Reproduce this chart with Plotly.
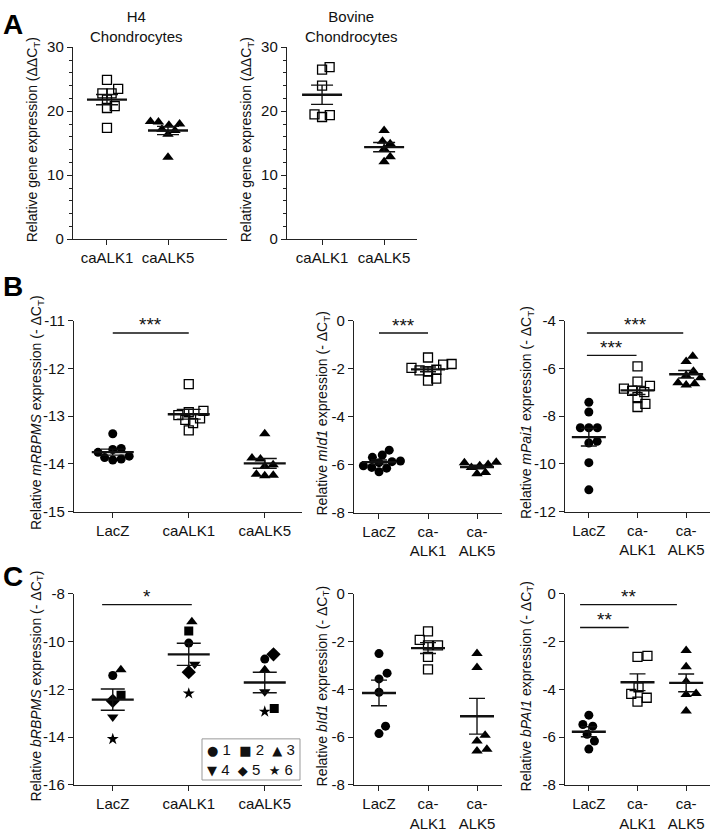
import math
import numpy as np
import plotly.graph_objects as go

W, H = 713, 837
FONT = "Liberation Sans, Arial, sans-serif"

# ---------------- data ----------------
A_cats = ["caALK1", "caALK5"]
B1_cats = ["LacZ", "caALK1", "caALK5"]
B2_cats = ["LacZ", "ca-<br>ALK1", "ca-<br>ALK5"]

# Panel A – H4 chondrocytes (ΔΔCT)
h4_caALK1 = [24.9, 23.5, 22.8, 22.8, 21.8, 20.8, 20.5, 17.4]
h4_caALK5 = [18.4, 18.0, 17.8, 18.3, 17.2, 17.0, 16.4, 12.8]
# Panel A – bovine chondrocytes
bov_caALK1 = [26.5, 26.9, 24.0, 19.5, 19.1, 19.4]
bov_caALK5 = [17.0, 14.9, 15.3, 14.1, 12.9, 12.1]

# Panel B – mouse (-ΔCT)
mRBPMS_LacZ = [-13.37, -13.68, -13.70, -13.76, -13.84, -13.87, -13.90, -13.92]
mRBPMS_caALK1 = [-12.33, -12.89, -12.92, -12.98, -13.05, -13.08, -13.15, -13.30]
mRBPMS_caALK5 = [-13.37, -13.88, -13.90, -14.02, -14.05, -14.22, -14.24, -14.25]

mId1_LacZ = [-5.40, -5.60, -5.70, -5.85, -5.88, -5.92, -6.05, -6.12, -6.15, -6.30]
mId1_caALK1 = [-1.54, -1.81, -1.84, -1.97, -2.05, -2.08, -2.11, -2.42, -2.50]
mId1_caALK5 = [-5.90, -5.92, -6.00, -6.05, -6.12, -6.33, -6.38]

mPai1_LacZ = [-7.42, -7.83, -8.49, -8.49, -8.49, -9.13, -9.06, -9.95, -11.09]
mPai1_caALK1 = [-5.92, -6.56, -6.74, -6.85, -6.94, -7.00, -7.21, -7.49, -7.62]
mPai1_caALK5 = [-5.50, -5.72, -6.12, -6.30, -6.40, -6.60, -6.65, -6.70]

# Panel C – bovine (-ΔCT); bRBPMS values ordered by donor 1..6
donors = ["1", "2", "3", "4", "5", "6"]
bRBPMS_LacZ = [-11.42, -12.25, -11.18, -13.16, -12.48, -14.08]
bRBPMS_caALK1 = [-10.06, -9.56, -9.17, -10.95, -11.28, -12.17]
bRBPMS_caALK5 = [-10.73, -12.80, -11.18, -12.10, -10.53, -12.93]

bId1_LacZ = [-2.50, -3.56, -3.32, -4.12, -5.54, -5.85]
bId1_caALK1 = [-1.57, -1.93, -2.16, -2.16, -2.64, -3.16]
bId1_caALK5 = [-2.50, -3.08, -5.92, -6.16, -6.58, -6.51]

bPAI1_LacZ = [-5.08, -5.54, -5.47, -5.88, -6.16, -6.50]
bPAI1_caALK1 = [-2.64, -2.60, -3.91, -4.19, -4.35, -4.51]
bPAI1_caALK5 = [-2.37, -3.05, -3.67, -4.17, -4.21, -4.90]

# significance brackets: (x-from, x-to, y, label) in category units / axis units
sig_B1 = [(0.0, 1.0, -11.26, "***")]
sig_B2 = [(0.0, 1.0, -0.52, "***")]
sig_B3 = [(-0.04, 1.94, -4.52, "***"), (-0.04, 0.98, -5.46, "***")]
sig_C1 = [(-0.14, 1.04, -8.45, "*")]
sig_C3 = [(-0.18, 1.81, -0.45, "**"), (-0.18, 0.82, -1.41, "**")]

# ---------------- styles ----------------
SYM_DONOR = ["circle", "square", "triangle-up", "triangle-down", "diamond", "star"]
STY = {
    "sq": dict(symbol="square-open", size=9, color="black", line=dict(width=1.3, color="black")),
    "tri": dict(symbol="triangle-up", size=10, color="black", line=dict(width=0)),
    "dot": dict(symbol="circle", size=9, color="black", line=dict(width=0)),
}
DONOR_SIZE = {"circle": 9, "square": 9, "triangle-up": 10, "triangle-down": 10,
              "diamond": 11, "star": 9}

panels = [
    dict(box=(73, 227, 39, 235), yr=(0, 30), yticks=[0, 10, 20, 30], minor=2,
         xr=(-0.557, 1.967), cats=A_cats, groups=[h4_caALK1, h4_caALK5],
         styles=["sq", "tri"], title="Relative gene expression (ΔΔC<sub>T</sub>)",
         tx=33, mw=20, cap=11, sig=[], diam=8),
    dict(box=(287, 417, 39, 235), yr=(0, 30), yticks=[0, 10, 20, 30], minor=2,
         xr=(-0.565, 1.53), cats=A_cats, groups=[bov_caALK1, bov_caALK5],
         styles=["sq", "tri"], title="Relative gene expression (ΔΔC<sub>T</sub>)",
         tx=247, mw=20, cap=11, sig=[], diam=8),
    dict(box=(74, 302, 318, 513), yr=(-15, -11), yticks=[-15, -14, -13, -12, -11], minor=None,
         xr=(-0.51, 2.49), cats=B1_cats, groups=[mRBPMS_LacZ, mRBPMS_caALK1, mRBPMS_caALK5],
         styles=["dot", "sq", "tri"], title="Relative <i>mRBPMS</i> expression (- ΔC<sub>T</sub>)",
         tx=37, mw=21, cap=12, sig=sig_B1, diam=8.5),
    dict(box=(354, 502, 318, 514), yr=(-8, 0), yticks=[-8, -6, -4, -2, 0], minor=None,
         xr=(-0.51, 2.51), cats=B2_cats, groups=[mId1_LacZ, mId1_caALK1, mId1_caALK5],
         styles=["dot", "sq", "tri"], title="Relative <i>mId1</i> expression (- ΔC<sub>T</sub>)",
         tx=323, mw=17, cap=8, sig=sig_B2, diam=8.5),
    dict(box=(565, 710, 318, 513), yr=(-12, -4), yticks=[-12, -10, -8, -6, -4], minor=None,
         xr=(-0.49, 2.49), cats=B2_cats, groups=[mPai1_LacZ, mPai1_caALK1, mPai1_caALK5],
         styles=["dot", "sq", "tri"], title="Relative <i>mPai1</i> expression (- ΔC<sub>T</sub>)",
         tx=527, mw=17, cap=8, sig=sig_B3, diam=8.5),
    dict(box=(74, 302, 597, 792), yr=(-16, -8), yticks=[-16, -14, -12, -10, -8], minor=None,
         xr=(-0.51, 2.49), cats=B1_cats, groups=[bRBPMS_LacZ, bRBPMS_caALK1, bRBPMS_caALK5],
         styles=["donor", "donor", "donor"], title="Relative <i>bRBPMS</i> expression (- ΔC<sub>T</sub>)",
         tx=37, mw=21, cap=12, sig=sig_C1, diam=10),
    dict(box=(354, 502, 597, 792), yr=(-8, 0), yticks=[-8, -6, -4, -2, 0], minor=None,
         xr=(-0.51, 2.51), cats=B2_cats, groups=[bId1_LacZ, bId1_caALK1, bId1_caALK5],
         styles=["dot", "sq", "tri"], title="Relative <i>bId1</i> expression (- ΔC<sub>T</sub>)",
         tx=323, mw=17, cap=8, sig=[], diam=10),
    dict(box=(565, 710, 597, 792), yr=(-8, 0), yticks=[-8, -6, -4, -2, 0], minor=None,
         xr=(-0.49, 2.49), cats=B2_cats, groups=[bPAI1_LacZ, bPAI1_caALK1, bPAI1_caALK5],
         styles=["dot", "sq", "tri"], title="Relative <i>bPAI1</i> expression (- ΔC<sub>T</sub>)",
         tx=527, mw=17, cap=8, sig=sig_C3, diam=10),
]


def swarm(vals, ppy, ppx, diam):
    """Simple deterministic beeswarm: x offsets (category units)."""
    vals = np.asarray(vals, float)
    order = np.argsort(vals)
    placed = []
    offs = np.zeros(len(vals))
    for idx in order:
        y = vals[idx] * ppy
        cands = [0.0]
        for xj, yj in placed:
            dy = abs(y - yj)
            if dy < diam:
                dx = math.sqrt(diam ** 2 - dy ** 2)
                cands += [xj + dx, xj - dx]
        cands.sort(key=lambda c: (round(abs(c), 6), -c))
        chosen = 0.0
        for c in cands:
            if all((c - xj) ** 2 + (y - yj) ** 2 >= diam ** 2 - 1e-6 for xj, yj in placed):
                chosen = c
                break
        placed.append((chosen, y))
        offs[idx] = chosen / ppx
    return offs


def px2x(px):
    return px / W


def px2y(py):
    return 1 - py / H


fig = go.Figure()
layout = dict(width=W, height=H, margin=dict(l=0, r=0, t=0, b=0), autosize=False,
              paper_bgcolor="white", plot_bgcolor="white", showlegend=False,
              font=dict(family=FONT, size=14, color="#111"))
annotations = []
shapes = []

axis_common = dict(showline=True, linecolor="#222", linewidth=1.4, ticks="outside",
                   ticklen=5, tickwidth=1.4, tickcolor="#222", showgrid=False,
                   zeroline=False, fixedrange=True, tickfont=dict(size=15, family=FONT, color="#111"))

for n, p in enumerate(panels, start=1):
    x0, x1, ytop, ybot = p["box"]
    xs = "" if n == 1 else str(n)
    ppx = (x1 - x0) / (p["xr"][1] - p["xr"][0])
    ppy = (ybot - ytop) / (p["yr"][1] - p["yr"][0])
    xa = dict(axis_common, domain=[px2x(x0), px2x(x1)], range=list(p["xr"]),
              anchor="y" + xs, tickvals=list(range(len(p["cats"]))), ticktext=p["cats"])
    ya = dict(axis_common, domain=[px2y(ybot), px2y(ytop)], range=list(p["yr"]),
              anchor="x" + xs, tickvals=p["yticks"], ticktext=[str(v) for v in p["yticks"]])
    if p["minor"]:
        ya["minor"] = dict(dtick=p["minor"], ticks="outside", ticklen=3, tickwidth=1.2,
                           tickcolor="#222", showgrid=False)
    layout["xaxis" + xs] = xa
    layout["yaxis" + xs] = ya

    means, sems = [], []
    for gi, (vals, sty) in enumerate(zip(p["groups"], p["styles"])):
        vals = np.asarray(vals, float)
        means.append(vals.mean())
        sems.append(vals.std(ddof=1) / math.sqrt(len(vals)))
        offs = swarm(vals, ppy, ppx, p["diam"])
        if sty == "donor":
            for di in range(len(vals)):
                sym = SYM_DONOR[di]
                fig.add_trace(go.Scatter(
                    x=[gi + offs[di]], y=[vals[di]], mode="markers",
                    marker=dict(symbol=sym, size=DONOR_SIZE[sym], color="black", line=dict(width=0)),
                    xaxis="x" + xs, yaxis="y" + xs, name=donors[di], hoverinfo="skip"))
        else:
            fig.add_trace(go.Scatter(
                x=gi + offs, y=vals, mode="markers", marker=STY[sty],
                xaxis="x" + xs, yaxis="y" + xs, hoverinfo="skip"))

    # SEM error bars
    fig.add_trace(go.Scatter(
        x=list(range(len(means))), y=means, mode="markers",
        marker=dict(size=1, color="rgba(0,0,0,0)"),
        error_y=dict(type="data", array=sems, visible=True, color="#111",
                     thickness=1.4, width=p["cap"]),
        xaxis="x" + xs, yaxis="y" + xs, hoverinfo="skip"))
    # mean lines
    hw = p["mw"] / ppx
    mx, my = [], []
    for gi, m in enumerate(means):
        mx += [gi - hw, gi + hw, None]
        my += [m, m, None]
    fig.add_trace(go.Scatter(x=mx, y=my, mode="lines", line=dict(color="#111", width=2.4),
                             xaxis="x" + xs, yaxis="y" + xs, hoverinfo="skip"))

    # significance
    for (sa, sb, sy, lab) in p["sig"]:
        shapes.append(dict(type="line", xref="x" + xs, yref="y" + xs, x0=sa, x1=sb,
                           y0=sy, y1=sy, line=dict(color="#111", width=1.4)))
        annotations.append(dict(xref="x" + xs, yref="y" + xs, x=(sa + sb) / 2, y=sy,
                                text=lab, showarrow=False, xanchor="center", yanchor="middle",
                                yshift=8, font=dict(size=19, family=FONT, color="#111")))

    # y-axis title
    annotations.append(dict(xref="paper", yref="paper", x=px2x(p["tx"]),
                            y=px2y((ytop + ybot) / 2 - 3), text=p["title"], textangle=-90,
                            showarrow=False, xanchor="center", yanchor="middle",
                            font=dict(size=14, family=FONT, color="#111")))

# panel titles (A)
annotations.append(dict(xref="paper", yref="paper", x=px2x(136), y=px2y(17.5),
                        text="H4<br>Chondrocytes", showarrow=False, xanchor="center",
                        yanchor="middle", font=dict(size=15, family=FONT, color="#111")))
annotations.append(dict(xref="paper", yref="paper", x=px2x(351), y=px2y(17.5),
                        text="Bovine<br>Chondrocytes", showarrow=False, xanchor="center",
                        yanchor="middle", font=dict(size=15, family=FONT, color="#111")))

# panel letters
for letter, cy in (("A", 16), ("B", 283), ("C", 579)):
    annotations.append(dict(xref="paper", yref="paper", x=px2x(13), y=px2y(cy),
                            text="<b>%s</b>" % letter, showarrow=False, xanchor="center",
                            yanchor="middle", font=dict(size=28, family=FONT, color="black")))

# donor legend in panel C1
SYMF = '<span style="font-family:DejaVu Sans;font-size:13px">%s</span>'
legend_rows = [
    "  ".join("%s %s" % (SYMF % g, d) for g, d in zip(["●", "■", "▲"], donors[:3])),
    "  ".join("%s %s" % (SYMF % g, d) for g, d in zip(["▼", "◆", "★"], donors[3:])),
]
shapes.append(dict(type="rect", xref="paper", yref="paper", x0=px2x(202), x1=px2x(300),
                   y0=px2y(787), y1=px2y(745), line=dict(color="#999", width=1),
                   fillcolor="white", layer="below"))
annotations.append(dict(xref="paper", yref="paper", x=px2x(251), y=px2y(766.5),
                        text="<br>".join(legend_rows), showarrow=False,
                        xanchor="center", yanchor="middle", align="left",
                        font=dict(size=15, family=FONT, color="#111")))

layout["annotations"] = annotations
layout["shapes"] = shapes
fig.update_layout(**layout)
fig.write_html("out.html", config={"displayModeBar": False},
               post_script="document.body.style.margin='0px';document.body.style.padding='0px';")
